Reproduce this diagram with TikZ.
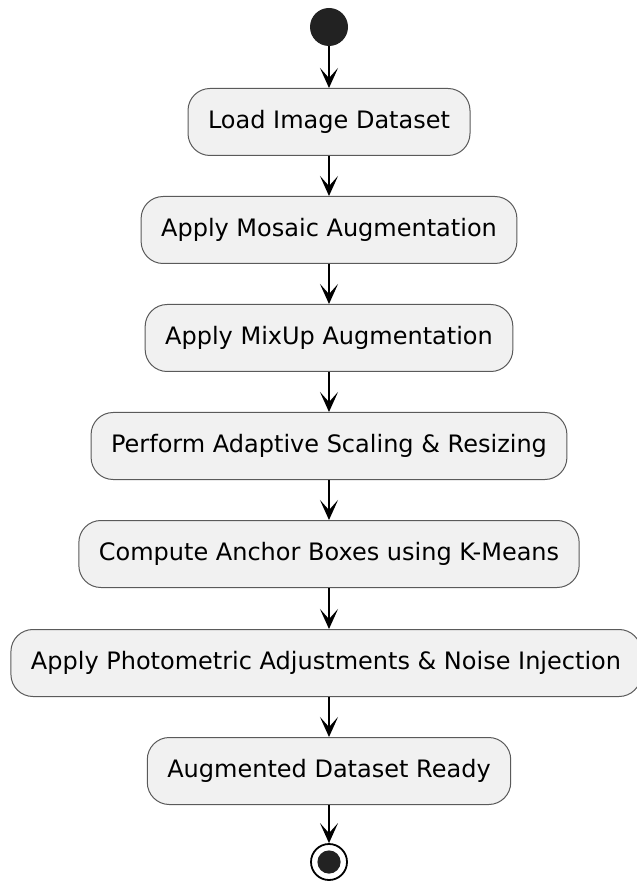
\documentclass[tikz,border=0pt]{standalone}
\usepackage{fontspec}
\setmainfont{DejaVu Sans}
\usetikzlibrary{arrows.meta}
\definecolor{boxfill}{HTML}{F1F1F1}
\definecolor{boxline}{HTML}{5A5A5A}
\definecolor{dotfill}{HTML}{222222}

\begin{document}
\begin{tikzpicture}[x=0.5pt,y=0.5pt]
        \useasboundingbox (0,0) rectangle (636,-886);
        \begin{scope}[every node/.style={fill=boxfill,draw=boxline,line width=0.5pt,rounded corners=11pt,minimum height=33.5pt,inner xsep=10pt,font=\fontsize{12}{14}\selectfont}]
            \node (load) at (329,-122) {Load Image Dataset};
            \node (mosaic) at (329,-230) {Apply Mosaic Augmentation};
            \node (mixup) at (329,-338) {Apply MixUp Augmentation};
            \node (scaling) at (329,-446) {Perform Adaptive Scaling \& Resizing};
            \node (anchor) at (329,-554) {Compute Anchor Boxes using K-Means};
            \node (photo) at (326,-663) {Apply Photometric Adjustments \& Noise Injection};
            \node (ready) at (329,-771) {Augmented Dataset Ready};
        \end{scope}
        \node[fill=dotfill,circle,minimum size=19pt,inner sep=0pt] (start) at (329,-27) {};
        \node[circle,draw=black,line width=0.9pt,fill=white,minimum size=18pt,inner sep=0pt] (stop) at (329,-862) {};
        \fill[dotfill] (stop.center) circle (5.8pt);
        \begin{scope}[every edge/.style={draw,line width=0.8pt,-{Stealth[length=10pt,width=9pt,inset=5pt]}}]
            \path (start) edge (load);
            \path (load) edge (mosaic);
            \path (mosaic) edge (mixup);
            \path (mixup) edge (scaling);
            \path (scaling) edge (anchor);
            \path (anchor) edge (photo.north -| anchor);
            \path (photo.south -| ready) edge (ready);
            \path (ready) edge (stop);
        \end{scope}
    \end{tikzpicture}
\end{document}
